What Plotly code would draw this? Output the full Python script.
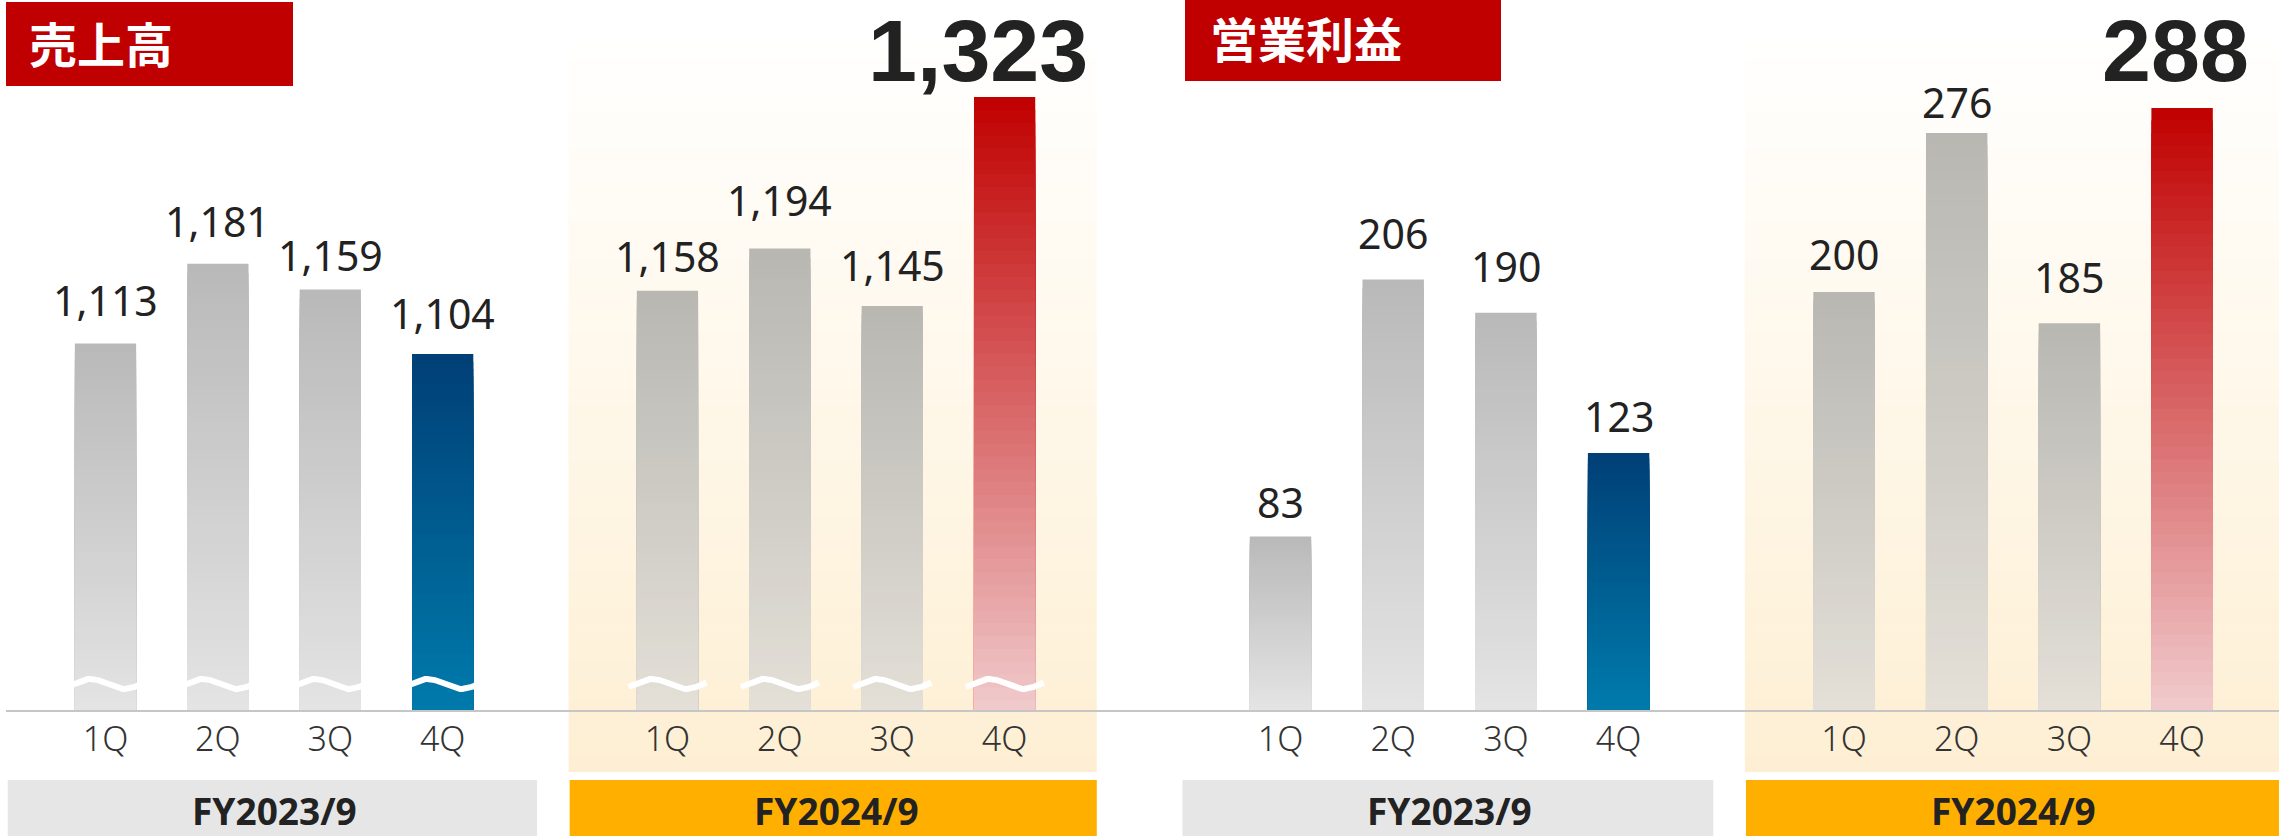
import math
import plotly.graph_objects as go

W, H = 2279, 836

# ---------------- data ----------------
quarters = ["1Q", "2Q", "3Q", "4Q"]
fiscal_years = ["FY2023/9", "FY2024/9"]
panel_titles = ["売上高", "営業利益"]
sales_fy2023 = [1113, 1181, 1159, 1104]
sales_fy2024 = [1158, 1194, 1145, 1323]
op_fy2023 = [83, 206, 190, 123]
op_fy2024 = [200, 276, 185, 288]

# ---------------- styling ----------------
CJK = "Noto Sans CJK JP"
LAT = "Noto Sans"
BIGFONT = "Liberation Sans"
TXT = "#222222"
BAR_W = 0.545
GAP = 5  # position offset of second fiscal year group

# pixel gap between each value label and its bar (label placement style)
sales_label_gap = [26, 26, 17, 24, 18, 31, 24, 0]
op_label_gap = [18, 29, 30, 20, 21, 14, 29, 0]

grad = {
    "gray23": ("#B9B9B9", "#E4E4E4"),
    "blue": ("#003F76", "#007BAC"),
    "gray24": ("#B8B7B2", "#E4E0D8"),
    "red": ("#C00000", "#F1CBCD"),
}


def hex2rgb(h):
    h = h.lstrip("#")
    return tuple(int(h[i:i + 2], 16) for i in (0, 2, 4))


def lerp(c_top, c_bot, t):
    a, b = hex2rgb(c_top), hex2rgb(c_bot)
    return "rgb(%d,%d,%d)" % tuple(round(b[i] + (a[i] - b[i]) * t) for i in range(3))


fig = go.Figure()

panels = [
    dict(xa="x", ya="y", v23=sales_fy2023, v24=sales_fy2024, gaps=sales_label_gap,
         yr=[800.64, 1405.66], base=798.0, broken=True, dom=[6 / W, 1140 / W],
         xr=[-0.8852, 9.2046], big_xshift=-27, title_box=(6, 293, 2, 86), title_y=41.8,
         title_x=27, fy24_right=0.82),
    dict(xa="x2", ya="y2", v23=op_fy2023, v24=op_fy2024, gaps=op_label_gap,
         yr=[0, 339.66], base=0.0, broken=False, dom=[1140 / W, 1.0],
         xr=[-1.2467, 8.8598], big_xshift=-7, title_box=(1185, 1501, 0, 81), title_y=37.3,
         title_x=1208, fy24_right=1.2),
]

shapes = []
annotations = []
N = 48

for pi, p in enumerate(panels):
    xs = list(range(4)) + [q + GAP for q in range(4)]
    vals = p["v23"] + p["v24"]
    keys = ["gray23"] * 3 + ["blue"] + ["gray24"] * 3 + ["red"]
    base = p["base"]
    # gradient bars: nested overlays, tallest first
    for k in range(N):
        frac = 1 - k / N
        tcol = frac - 0.5 / N
        fig.add_trace(go.Bar(
            x=xs, y=[(v - base) * frac for v in vals], base=base,
            width=BAR_W, marker=dict(color=[lerp(*grad[kk], tcol) for kk in keys], line=dict(width=0)),
            xaxis=p["xa"], yaxis=p["ya"], hoverinfo="skip", showlegend=False))

    # axis break waves (broken value axis)
    if p["broken"]:
        wx, wy = [], []
        yc = 822.8
        amp = 4.3
        for x in xs:
            for j in range(41):
                u = j / 40
                wx.append(x - 0.347 + 0.694 * u)
                wy.append(yc + amp * math.sin(2 * math.pi * (-0.1 + 1.15 * u)))
            wx.append(None)
            wy.append(None)
        fig.add_trace(go.Scatter(x=wx, y=wy, mode="lines", line=dict(color="white", width=6),
                                 xaxis=p["xa"], yaxis=p["ya"], hoverinfo="skip", showlegend=False))

    # value labels
    for i, (x, v) in enumerate(zip(xs, vals)):
        if i == len(vals) - 1:
            annotations.append(dict(
                x=x, y=1, xref=p["xa"], yref="paper", text=f"{v:,}", showarrow=False,
                xanchor="center", yanchor="top", xshift=p["big_xshift"], borderpad=0,
                font=dict(family=BIGFONT, size=88, color=TXT, weight="bold")))
        else:
            annotations.append(dict(
                x=x, y=v, xref=p["xa"], yref=p["ya"], text=f"{v:,}", showarrow=False,
                xanchor="center", yanchor="bottom", yshift=p["gaps"][i] - 13.0,
                font=dict(family=LAT, size=41, color=TXT)))

    # FY2024 highlight background (vertical gradient)
    nb = 40
    top_px, bot_px = 40, 772
    for j in range(nb):
        y1 = top_px + (bot_px - top_px) * j / nb
        y0 = top_px + (bot_px - top_px) * (j + 1) / nb
        t = (j + 0.5) / nb
        shapes.append(dict(type="rect", xref=p["xa"], yref="paper", x0=GAP - 0.88,
                           x1=GAP + 3 + p["fy24_right"],
                           y0=1 - y0 / H, y1=1 - y1 / H + 0.0005, line=dict(width=0),
                           fillcolor=lerp("#FEEFD3", "#FFFFFF", t), layer="below"))

    # fiscal year boxes
    for gi, (fy, col) in enumerate(zip(fiscal_years, ["#E6E6E6", "#FFAF00"])):
        x0 = gi * GAP - 0.87
        x1 = gi * GAP + 3 + (0.84 if gi == 0 else p["fy24_right"])
        shapes.append(dict(type="rect", xref=p["xa"], yref="paper", x0=x0, x1=x1,
                           y0=0, y1=1 - 780 / H, line=dict(width=0), fillcolor=col, layer="below"))
        annotations.append(dict(x=gi * GAP + 1.5, y=1 - 810.8 / H, xref=p["xa"], yref="paper",
                                text=fy, showarrow=False, xanchor="center", yanchor="middle",
                                font=dict(family=LAT, size=37, color=TXT, weight="bold")))

    # panel title
    bx0, bx1, by0, by1 = p["title_box"]
    shapes.append(dict(type="rect", xref="paper", yref="paper", x0=bx0 / W, x1=bx1 / W,
                       y0=1 - by1 / H, y1=1 - by0 / H, line=dict(width=0), fillcolor="#C00000",
                       layer="below"))
    annotations.append(dict(x=p["title_x"] / W, y=1 - p["title_y"] / H, xref="paper", yref="paper",
                            text=panel_titles[pi], showarrow=False, xanchor="left", yanchor="middle",
                            font=dict(family=CJK, size=48, color="white", weight="bold")))

axis_common = dict(showgrid=False, zeroline=False, showline=True, linecolor="#C6C6C6", linewidth=2,
                   ticks="outside", ticklen=10, tickcolor="rgba(0,0,0,0)", ticklabelstandoff=-12,
                   tickvals=list(range(4)) + [q + GAP for q in range(4)], ticktext=quarters * 2,
                   tickfont=dict(family=LAT, size=34, color="#333333", weight=300), fixedrange=True)

fig.update_layout(
    width=W, height=H, margin=dict(l=0, r=0, t=0, b=0),
    paper_bgcolor="white", plot_bgcolor="rgba(0,0,0,0)",
    barmode="overlay", showlegend=False,
    xaxis=dict(domain=panels[0]["dom"], range=panels[0]["xr"], anchor="y", **axis_common),
    xaxis2=dict(domain=panels[1]["dom"], range=panels[1]["xr"], anchor="y2", **axis_common),
    yaxis=dict(domain=[126 / H, 1], range=panels[0]["yr"], visible=False, fixedrange=True),
    yaxis2=dict(domain=[126 / H, 1], range=panels[1]["yr"], visible=False, anchor="x2", fixedrange=True),
    shapes=shapes, annotations=annotations,
)

fig.write_html("out.html", config={"displayModeBar": False},
               post_script="document.body.style.margin='0';")
